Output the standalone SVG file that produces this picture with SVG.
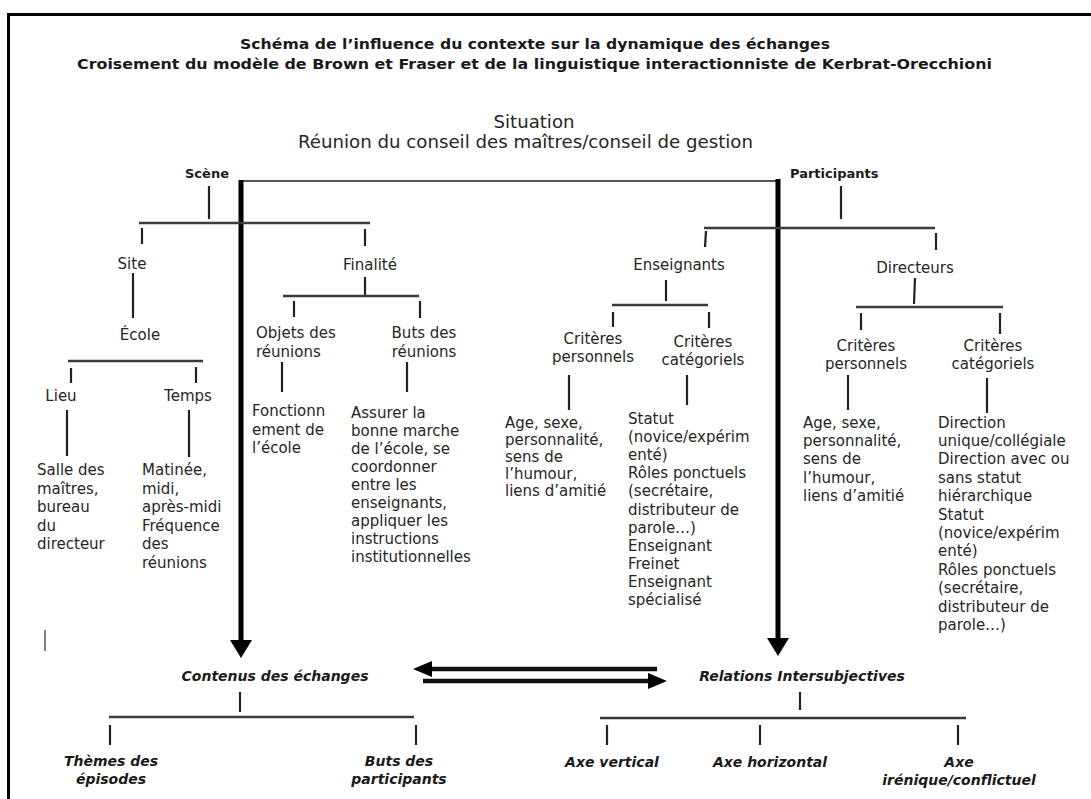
<svg xmlns="http://www.w3.org/2000/svg" width="1091" height="799" viewBox="0 0 1091 799">
<style>
text{font-family:"DejaVu Sans","Liberation Sans",sans-serif;fill:#262626}
.t{font-size:15px}
.c{text-anchor:middle}
.h{font-size:17px}
.ti{font-size:14.5px;font-weight:bold;text-anchor:middle;fill:#1a1a1a}
.b{font-size:13px;font-weight:bold;fill:#1a1a1a}
.bi{font-size:14px;font-weight:bold;font-style:italic;text-anchor:middle;fill:#1a1a1a}
.ln{stroke:#222;stroke-width:2.2;fill:none}
.br{stroke:#3a3a3a;stroke-width:2.6;fill:none}
.thin{stroke:#555;stroke-width:2;fill:none}
.thick{stroke:#000;stroke-width:5;fill:none}
.dbl{stroke:#111;stroke-width:4.5;fill:none}
.ah{fill:#000}
</style>
<rect x="0" y="0" width="1091" height="799" fill="#fff"/>
<path d="M8.5,805 V14.5 H1095" fill="none" stroke="#000" stroke-width="3"/>

<g id="title">
<text class="ti" x="535" y="49" textLength="590" lengthAdjust="spacingAndGlyphs">Schéma de l’influence du contexte sur la dynamique des échanges</text>
<text class="ti" x="534.5" y="69" textLength="915" lengthAdjust="spacingAndGlyphs">Croisement du modèle de Brown et Fraser et de la linguistique interactionniste de Kerbrat-Orecchioni</text>
</g>
<g id="situation">
<text class="h c" x="534" y="128" textLength="81" lengthAdjust="spacingAndGlyphs">Situation</text>
<text class="h c" x="525.5" y="148" textLength="455" lengthAdjust="spacingAndGlyphs">Réunion du conseil des maîtres/conseil de gestion</text>
</g>

<g id="connectors">
<line class="thin" x1="241" y1="181" x2="778" y2="181"/>
<line class="thick" x1="241" y1="180" x2="241" y2="643"/>
<polygon class="ah" points="230,640 252,640 241,658"/>
<line class="thick" x1="778" y1="179" x2="778" y2="641"/>
<polygon class="ah" points="767,638 789,638 778,656"/>
<line class="dbl" x1="428" y1="669" x2="657" y2="669"/>
<polygon class="ah" points="413,669 432,661 432,677"/>
<line class="dbl" x1="423" y1="681" x2="651" y2="681"/>
<polygon class="ah" points="667,681 648,673 648,689"/>

<line class="ln" x1="209" y1="186" x2="209" y2="219"/>
<line class="br" x1="139" y1="223" x2="370" y2="223"/>
<line class="ln" x1="142" y1="228" x2="142" y2="244"/>
<line class="ln" x1="365" y1="229" x2="365" y2="246"/>
<line class="ln" x1="133" y1="273" x2="133" y2="318"/>
<line class="br" x1="68" y1="361" x2="203" y2="361"/>
<line class="ln" x1="71" y1="368" x2="71" y2="383"/>
<line class="ln" x1="196" y1="367" x2="196" y2="383"/>
<line class="ln" x1="67" y1="410" x2="67" y2="456"/>
<line class="ln" x1="189" y1="410" x2="189" y2="457"/>
<line class="ln" x1="365" y1="277" x2="365" y2="296"/>
<line class="br" x1="283" y1="296" x2="419" y2="296"/>
<line class="ln" x1="294" y1="301" x2="294" y2="317"/>
<line class="ln" x1="420" y1="301" x2="420" y2="318"/>
<line class="ln" x1="282" y1="362" x2="282" y2="392"/>
<line class="ln" x1="407" y1="362" x2="407" y2="392"/>

<line class="ln" x1="841" y1="186" x2="841" y2="219"/>
<line class="br" x1="704" y1="228" x2="935" y2="228"/>
<line class="ln" x1="706" y1="231" x2="705" y2="247"/>
<line class="ln" x1="936" y1="233" x2="936" y2="250"/>
<line class="ln" x1="666" y1="280" x2="666" y2="301"/>
<line class="br" x1="612" y1="305" x2="708" y2="305"/>
<line class="ln" x1="613" y1="312" x2="613" y2="327"/>
<line class="ln" x1="709" y1="312" x2="709" y2="328"/>
<line class="ln" x1="569" y1="375" x2="569" y2="410"/>
<line class="ln" x1="687" y1="375" x2="687" y2="405"/>
<line class="ln" x1="915" y1="278" x2="914" y2="304"/>
<line class="br" x1="856" y1="307" x2="1003" y2="307"/>
<line class="ln" x1="861" y1="313" x2="861" y2="330"/>
<line class="ln" x1="1000" y1="313" x2="1000" y2="334"/>
<line class="ln" x1="848" y1="375" x2="848" y2="410"/>
<line class="ln" x1="987" y1="378" x2="987" y2="413"/>

<line class="ln" x1="240" y1="692" x2="240" y2="712"/>
<line class="br" x1="109" y1="717" x2="414" y2="717"/>
<line class="ln" x1="110" y1="725" x2="110" y2="745"/>
<line class="ln" x1="416" y1="725" x2="416" y2="745"/>
<line class="ln" x1="800" y1="692" x2="800" y2="710"/>
<line class="br" x1="600" y1="718" x2="966" y2="718"/>
<line class="ln" x1="607" y1="725" x2="607" y2="745"/>
<line class="ln" x1="760" y1="725" x2="760" y2="745"/>
<line class="ln" x1="958" y1="725" x2="958" y2="745"/>
<line stroke="#555" stroke-width="1.5" x1="45" y1="630" x2="45" y2="651"/>
</g>

<g id="scene"><text class="b" x="185" y="178">Scène</text></g>
<g id="participants"><text class="b" x="790" y="178">Participants</text></g>
<g id="site"><text class="t c" x="132" y="269">Site</text></g>
<g id="ecole"><text class="t c" x="140" y="340">École</text></g>
<g id="lieu"><text class="t c" x="61" y="401">Lieu</text></g>
<g id="temps"><text class="t c" x="188" y="401">Temps</text></g>
<g id="lieu-detail"><text class="t" x="37" y="475">Salle des<tspan x="37" y="493.5">maîtres,</tspan><tspan x="37" y="512">bureau</tspan><tspan x="37" y="530.5">du</tspan><tspan x="37" y="549">directeur</tspan></text></g>
<g id="temps-detail"><text class="t" x="142" y="475">Matinée,<tspan x="142" y="493.5">midi,</tspan><tspan x="142" y="512">après-midi</tspan><tspan x="142" y="530.5">Fréquence</tspan><tspan x="142" y="549">des</tspan><tspan x="142" y="567.5">réunions</tspan></text></g>
<g id="finalite"><text class="t c" x="370" y="270">Finalité</text></g>
<g id="objets"><text class="t" x="256" y="338">Objets des<tspan x="256" y="356.5">réunions</tspan></text></g>
<g id="buts"><text class="t c" x="424" y="338">Buts des<tspan x="424" y="356.5">réunions</tspan></text></g>
<g id="objets-detail"><text class="t" x="252" y="416">Fonctionn<tspan x="252" y="434.5">ement de</tspan><tspan x="252" y="453">l’école</tspan></text></g>
<g id="buts-detail"><text class="t" x="351" y="417.5">Assurer la<tspan x="351" y="435.6">bonne marche</tspan><tspan x="351" y="453.7">de l’école, se</tspan><tspan x="351" y="471.8">coordonner</tspan><tspan x="351" y="489.9">entre les</tspan><tspan x="351" y="508">enseignants,</tspan><tspan x="351" y="526.1">appliquer les</tspan><tspan x="351" y="544.2">instructions</tspan><tspan x="351" y="562.3">institutionnelles</tspan></text></g>

<g id="enseignants"><text class="t c" x="679" y="270">Enseignants</text></g>
<g id="ens-pers"><text class="t c" x="593" y="344">Critères<tspan x="593" y="362">personnels</tspan></text></g>
<g id="ens-cat"><text class="t c" x="703" y="347">Critères<tspan x="703" y="365">catégoriels</tspan></text></g>
<g id="ens-pers-detail"><text class="t" x="505" y="428">Age, sexe,<tspan x="505" y="445">personnalité,</tspan><tspan x="505" y="462">sens de</tspan><tspan x="505" y="479">l’humour,</tspan><tspan x="505" y="496">liens d’amitié</tspan></text></g>
<g id="ens-cat-detail"><text class="t" x="628" y="424">Statut<tspan x="628" y="442.1">(novice/expérim</tspan><tspan x="628" y="460.2">enté)</tspan><tspan x="628" y="478.3">Rôles ponctuels</tspan><tspan x="628" y="496.4">(secrétaire,</tspan><tspan x="628" y="514.5">distributeur de</tspan><tspan x="628" y="532.6">parole…)</tspan><tspan x="628" y="550.7">Enseignant</tspan><tspan x="628" y="568.8">Freinet</tspan><tspan x="628" y="586.9">Enseignant</tspan><tspan x="628" y="605">spécialisé</tspan></text></g>

<g id="directeurs"><text class="t c" x="915" y="273">Directeurs</text></g>
<g id="dir-pers"><text class="t c" x="866" y="351">Critères<tspan x="866" y="369">personnels</tspan></text></g>
<g id="dir-cat"><text class="t c" x="993" y="351">Critères<tspan x="993" y="369">catégoriels</tspan></text></g>
<g id="dir-pers-detail"><text class="t" x="803" y="427.5">Age, sexe,<tspan x="803" y="445.9">personnalité,</tspan><tspan x="803" y="464.3">sens de</tspan><tspan x="803" y="482.7">l’humour,</tspan><tspan x="803" y="501.1">liens d’amitié</tspan></text></g>
<g id="dir-cat-detail"><text class="t" x="938" y="427.5">Direction<tspan x="938" y="445.9">unique/collégiale</tspan><tspan x="938" y="464.3">Direction avec ou</tspan><tspan x="938" y="482.7">sans statut</tspan><tspan x="938" y="501.1">hiérarchique</tspan><tspan x="938" y="519.5">Statut</tspan><tspan x="938" y="537.9">(novice/expérim</tspan><tspan x="938" y="556.3">enté)</tspan><tspan x="938" y="574.7">Rôles ponctuels</tspan><tspan x="938" y="593.1">(secrétaire,</tspan><tspan x="938" y="611.5">distributeur de</tspan><tspan x="938" y="629.9">parole…)</tspan></text></g>

<g id="contenus"><text class="bi" x="275" y="681">Contenus des échanges</text></g>
<g id="relations"><text class="bi" x="802" y="681">Relations Intersubjectives</text></g>
<g id="themes"><text class="bi" x="111" y="766">Thèmes des<tspan x="111" y="784">épisodes</tspan></text></g>
<g id="buts-participants"><text class="bi" x="399" y="766">Buts des<tspan x="399" y="784">participants</tspan></text></g>
<g id="axe-vertical"><text class="bi" x="612" y="767">Axe vertical</text></g>
<g id="axe-horizontal"><text class="bi" x="770" y="767">Axe horizontal</text></g>
<g id="axe-irenique"><text class="bi" x="959" y="767">Axe<tspan x="959" y="785">irénique/conflictuel</tspan></text></g>
</svg>
